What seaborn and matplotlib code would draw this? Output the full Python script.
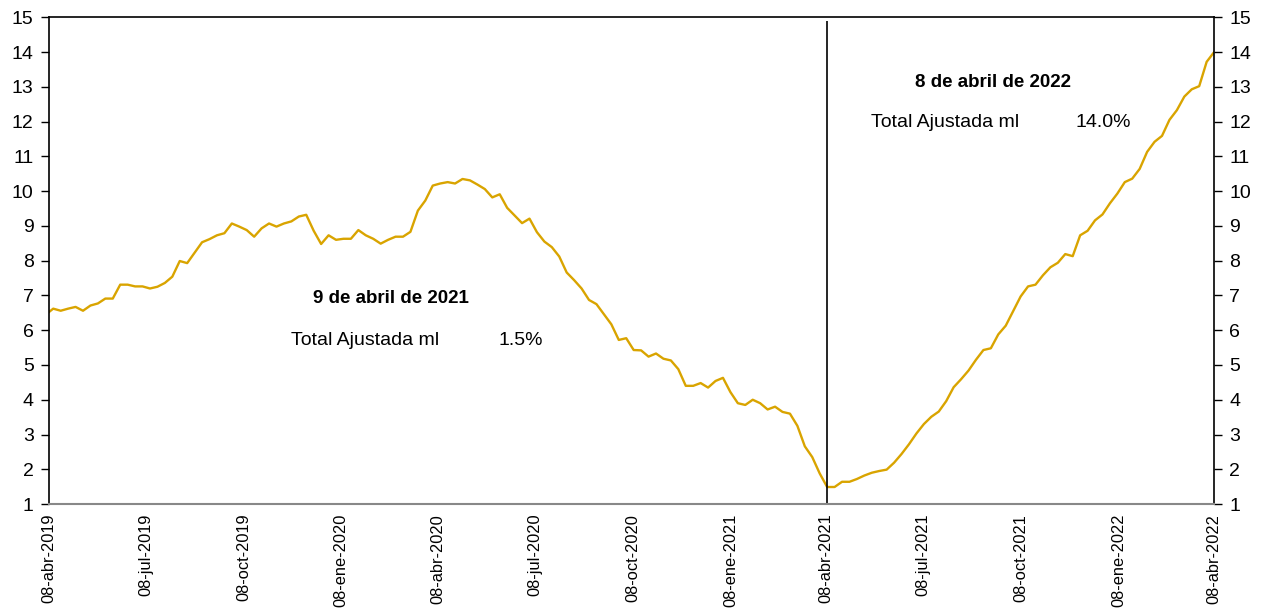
import pandas as pd
import seaborn as sns
import matplotlib.pyplot as plt

# weekly series (Fridays), first point falls just before the axis start
start_date = '2019-04-05'
values = [
    6.45, 6.62, 6.56, 6.62, 6.67, 6.56, 6.71, 6.77, 6.91, 6.91,
    7.31, 7.31, 7.26, 7.26, 7.20, 7.25, 7.36, 7.54, 7.99, 7.93,
    8.23, 8.53, 8.62, 8.73, 8.79, 9.07, 8.98, 8.88, 8.69, 8.93,
    9.07, 8.98, 9.07, 9.13, 9.27, 9.32, 8.86, 8.48, 8.73, 8.60,
    8.63, 8.63, 8.88, 8.73, 8.63, 8.49, 8.60, 8.69, 8.69, 8.83,
    9.44, 9.73, 10.16, 10.22, 10.26, 10.22, 10.35, 10.31, 10.19, 10.06,
    9.82, 9.91, 9.52, 9.30, 9.08, 9.21, 8.82, 8.55, 8.39, 8.12,
    7.66, 7.44, 7.20, 6.87, 6.75, 6.46, 6.17, 5.72, 5.77, 5.43,
    5.42, 5.24, 5.33, 5.18, 5.13, 4.88, 4.40, 4.40, 4.48, 4.35,
    4.54, 4.63, 4.22, 3.90, 3.85, 4.00, 3.90, 3.72, 3.80, 3.65,
    3.60, 3.25, 2.66, 2.35, 1.88, 1.49, 1.49, 1.64, 1.64, 1.72,
    1.82, 1.90, 1.95, 1.99, 2.19, 2.44, 2.72, 3.03, 3.30, 3.51,
    3.66, 3.96, 4.36, 4.59, 4.84, 5.15, 5.43, 5.48, 5.88, 6.13,
    6.55, 6.97, 7.26, 7.31, 7.58, 7.81, 7.94, 8.19, 8.13, 8.73,
    8.86, 9.16, 9.33, 9.65, 9.93, 10.26, 10.36, 10.64, 11.13, 11.42,
    11.59, 12.05, 12.33, 12.72, 12.93, 13.02, 13.72, 14.00,
]

tick_dates = ['2019-04-08', '2019-07-08', '2019-10-08', '2020-01-08',
              '2020-04-08', '2020-07-08', '2020-10-08', '2021-01-08',
              '2021-04-08', '2021-07-08', '2021-10-08', '2022-01-08',
              '2022-04-08']
tick_labels = ['08-abr-2019', '08-jul-2019', '08-oct-2019', '08-ene-2020',
               '08-abr-2020', '08-jul-2020', '08-oct-2020', '08-ene-2021',
               '08-abr-2021', '08-jul-2021', '08-oct-2021', '08-ene-2022',
               '08-abr-2022']

marker_date = '2021-04-09'
notes = [
    ('9 de abril de 2021', 'Total Ajustada ml', '1.5%'),
    ('8 de abril de 2022', 'Total Ajustada ml', '14.0%'),
]

df = pd.DataFrame({
    'Fecha': pd.date_range(start_date, periods=len(values), freq='7D'),
    'Valor': values,
})

sns.set_style('white')
plt.rcParams['font.family'] = ['Liberation Sans', 'DejaVu Sans']
plt.rcParams['text.color'] = 'black'

fig, ax = plt.subplots(figsize=(12.66, 6.08), dpi=100)
fig.subplots_adjust(left=0.0387, right=0.959, top=0.9715, bottom=0.171)

sns.lineplot(data=df, x='Fecha', y='Valor', ax=ax, color='#D9A400',
             linewidth=1.7)

ax.vlines(pd.Timestamp(marker_date), 1, 14.9, color='black', linewidth=1.2)

ax.set_xlim(pd.Timestamp(tick_dates[0]), pd.Timestamp(tick_dates[-1]))
ax.set_ylim(1, 15)
ax.set_yticks(range(1, 16))
ax.set_xticks(pd.to_datetime(tick_dates))
ax.set_xticklabels(tick_labels, rotation=90, fontsize=11.8)
ax.set_xlabel('')
ax.set_ylabel('')

ax.tick_params(axis='y', which='both', left=True, right=True,
               labelleft=True, labelright=True, direction='out',
               length=6, width=1, pad=5, labelsize=14, colors='black')
ax.tick_params(axis='x', direction='out', length=4, width=1, pad=3,
               color='#888888', labelcolor='black')

for side in ['top', 'left', 'right']:
    ax.spines[side].set_color('black')
    ax.spines[side].set_linewidth(1.2)
ax.spines['bottom'].set_color('#888888')
ax.spines['bottom'].set_linewidth(1.5)

# annotations
ax.text(0.2936, 0.423, notes[0][0], transform=ax.transAxes, ha='center',
        va='center', fontsize=13.5, fontweight='bold')
ax.text(0.271, 0.337, notes[0][1], transform=ax.transAxes, ha='center',
        va='center', fontsize=14)
ax.text(0.405, 0.337, notes[0][2], transform=ax.transAxes, ha='center',
        va='center', fontsize=14)

ax.text(0.810, 0.866, notes[1][0], transform=ax.transAxes, ha='center',
        va='center', fontsize=13.5, fontweight='bold')
ax.text(0.769, 0.784, notes[1][1], transform=ax.transAxes, ha='center',
        va='center', fontsize=14)
ax.text(0.905, 0.784, notes[1][2], transform=ax.transAxes, ha='center',
        va='center', fontsize=14)

plt.savefig('out.png', dpi=100)
